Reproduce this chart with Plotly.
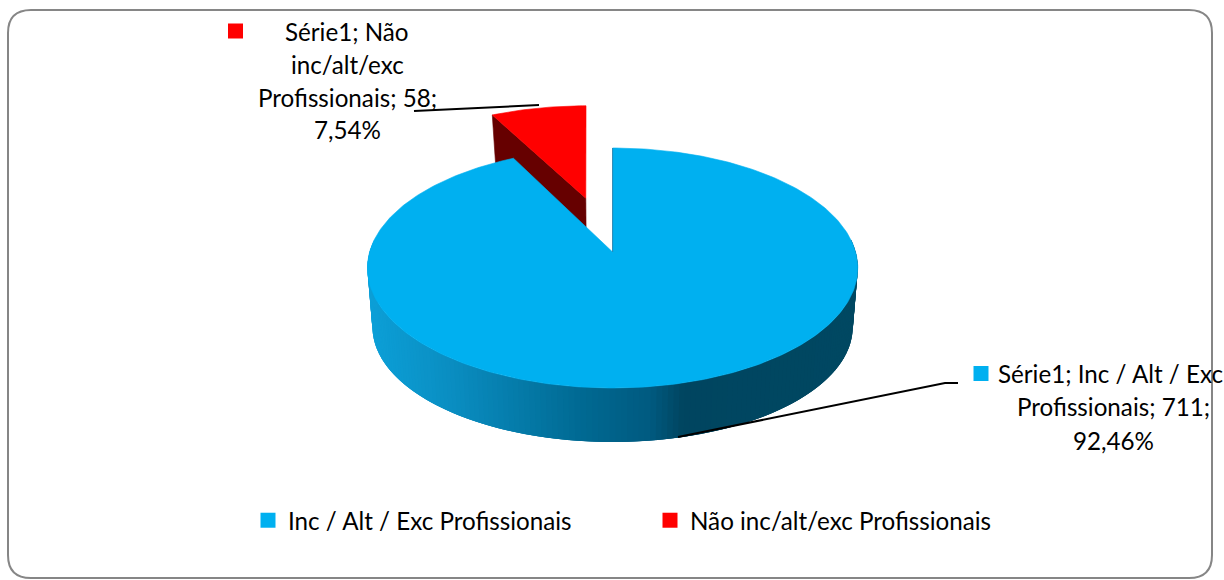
import numpy as np
import plotly.graph_objects as go

# --- data ---
categories = ["Inc / Alt / Exc Profissionais", "Não inc/alt/exc Profissionais"]
values = [711, 58]
series_name = "Série1"
colors = ["#00B0F0", "#FF0000"]
side_red = "#660000"

# --- drawing helpers: a perspective pie in chart pixel units ---
FONT = "Lato"
FS = 24.2
XC = 612.6
C = 0.1333                      # perspective strength
TOP = dict(r=243.0, a=-84.27, b=252.0)
BOT = dict(r=238.0, a=-71.4, b=311.7)
EXPLODE = 0.50
RED_SHEAR = 0.03


def project(X, U, plane):
    d = C * U + 1
    return XC + plane["r"] * X / d, (plane["a"] * U + plane["b"]) / d


def mix(c1, c2, f):
    return tuple(c1[i] + (c2[i] - c1[i]) * f for i in range(3))


GRAD_X = [368, 450, 583, 650, 683, 860]
GRAD_C = [(12, 160, 216), (10, 142, 194), (0, 105, 146), (0, 90, 128), (0, 69, 96), (0, 72, 98)]


def side_colour(x):
    for i in range(len(GRAD_X) - 1):
        if x <= GRAD_X[i + 1]:
            f = max(0, (x - GRAD_X[i]) / (GRAD_X[i + 1] - GRAD_X[i]))
            r, g, b = mix(GRAD_C[i], GRAD_C[i + 1], f)
            return f"rgb({r:.0f},{g:.0f},{b:.0f})"
    return "rgb(0,72,98)"


total = sum(values)
blue_span = 2 * np.pi * values[0] / total
red_span = 2 * np.pi * values[1] / total

fig = go.Figure()


def poly(xs, ys, colour, width=0.6):
    fig.add_trace(go.Scatter(
        x=list(xs), y=list(ys), mode="lines", fill="toself", fillcolor=colour,
        line=dict(color=colour, width=width), hoverinfo="skip", showlegend=False))


# exploded red slice
mid = blue_span + red_span / 2
ox, ou = EXPLODE * np.sin(mid), EXPLODE * np.cos(mid)
ts = np.linspace(blue_span, 2 * np.pi, 30)
rx, ru = ox + np.sin(ts), ou + np.cos(ts)

# red cut face
ax_t, ay_t = project(ox, ou, TOP)
ax_b, ay_b = project(ox, ou, BOT)
lx_t, ly_t = project(rx[0], ru[0], TOP)
lx_b, ly_b = project(rx[0], ru[0], BOT)


def shear(x, y):
    return x - RED_SHEAR * (ay_t - y)


poly([ax_t, shear(lx_t, ly_t), shear(lx_b, ly_b), ax_b, ax_t], [ay_t, ly_t, ly_b, ay_b, ay_t], side_red)
# red top
px, py = project(rx, ru, TOP)
poly([ax_t, *shear(px, py), ax_t], [ay_t, *py, ay_t], colors[1])

# blue rim: overlapping strips painted left to right so the shading is smooth
rim = np.radians(np.linspace(276, 84, 160))
for i in range(len(rim) - 1):
    arc = rim[i:min(i + 4, len(rim))]
    tx, ty = project(np.sin(arc), np.cos(arc), TOP)
    lx, ly = project(np.sin(arc[::-1]), np.cos(arc[::-1]), BOT)
    poly([*tx, *lx, tx[0]], [*ty, *ly, ty[0]], side_colour((tx[0] + tx[1] + lx[-1] + lx[-2]) / 4), width=0)

# blue top
ts = np.linspace(0, blue_span, 360)
bx, by = project(np.sin(ts), np.cos(ts), TOP)
cx, cy = project(0, 0, TOP)
poly([cx, *bx, cx], [cy, *by, cy], colors[0])
# faint shaded edge of the slice's cut at twelve o'clock
fig.add_trace(go.Scatter(x=[bx[0], cx], y=[by[0], cy], mode="lines",
                         line=dict(color="rgba(40,110,150,0.7)", width=1), hoverinfo="skip", showlegend=False))

# leader lines
fig.add_trace(go.Scatter(x=[414, 539], y=[111, 105], mode="lines",
                         line=dict(color="black", width=2), hoverinfo="skip", showlegend=False))
fig.add_trace(go.Scatter(x=[678, 945, 958], y=[437, 383, 383], mode="lines",
                         line=dict(color="black", width=2), hoverinfo="skip", showlegend=False))

# data-label keys
fig.add_trace(go.Scatter(x=[981, 235.5], y=[373.5, 31], mode="markers",
                         marker=dict(symbol="square", size=15, color=colors, line_width=0),
                         hoverinfo="skip", showlegend=False))

# legend entries
for name, colour in zip(categories, colors):
    fig.add_trace(go.Scatter(x=[None], y=[None], mode="markers", name=name,
                             marker=dict(symbol="square", size=15, color=colour)))

# data labels
pct = [f"{v / total * 100:.2f}".replace(".", ",") + "%" for v in values]
label_lines = [
    ([1110, 1113, 1113], [373, 406, 440], [f"{series_name}; Inc / Alt / Exc", f"Profissionais; {values[0]};", pct[0]]),
    ([347] * 4, [31, 64, 97, 129], [f"{series_name}; Não", "inc/alt/exc", f"Profissionais; {values[1]};", pct[1]]),
]
annotations = []
for xs, ys, lines in label_lines:
    for x0, y0, line in zip(xs, ys, lines):
        annotations.append(dict(x=x0, y=y0, xref="x", yref="y", text=line, showarrow=False,
                                xanchor="center", yanchor="middle",
                                font=dict(family=FONT, size=FS, color="black")))

frame = ("M 31 10 L 1189 10 Q 1212 10 1212 33 L 1212 555 Q 1212 578 1189 578 "
         "L 31 578 Q 8 578 8 555 L 8 33 Q 8 10 31 10 Z")

fig.update_layout(
    width=1224, height=580, autosize=False,
    margin=dict(l=0, r=0, t=0, b=0),
    paper_bgcolor="white", plot_bgcolor="white",
    font=dict(family=FONT, size=FS, color="black"),
    xaxis=dict(range=[0, 1224], visible=False, fixedrange=True),
    yaxis=dict(range=[580, 0], visible=False, fixedrange=True),
    shapes=[dict(type="path", path=frame, xref="x", yref="y",
                 line=dict(color="#868686", width=2), layer="below")],
    annotations=annotations,
    legend=dict(orientation="h", x=248 / 1224, xanchor="left", y=1 - 498 / 580, yanchor="top",
                entrywidth=357, entrywidthmode="pixels", bgcolor="rgba(0,0,0,0)",
                font=dict(family=FONT, size=FS, color="black")),
)
fig.write_html("out.html", config={"displayModeBar": False},
               post_script="document.body.style.margin='0';document.documentElement.style.overflow='hidden';")
